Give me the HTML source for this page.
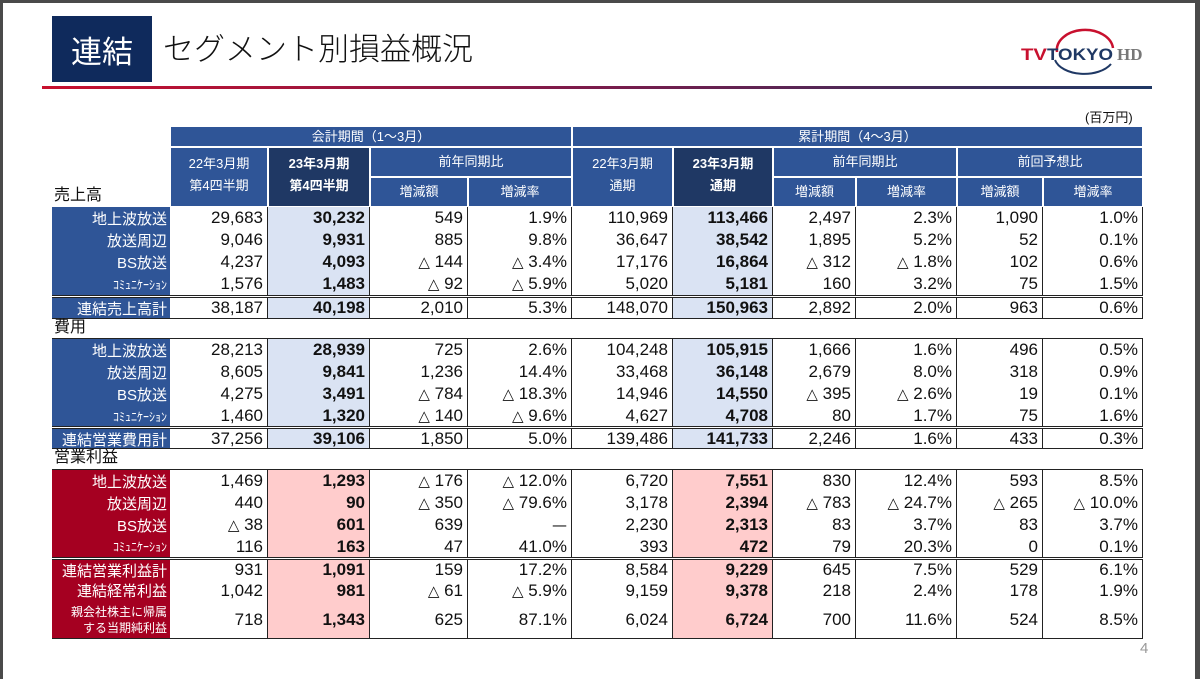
<!DOCTYPE html>
<html><head><meta charset="utf-8">
<style>
body{margin:0;width:1200px;height:679px;background:#4a4a4a;overflow:hidden;font-family:"Liberation Sans","Noto Sans CJK JP",sans-serif}
#slide{position:absolute;left:3px;top:3px;width:1192px;height:676px;background:#fff}
.a{position:absolute;box-sizing:border-box}
.h{background:#2f5597;color:#fff;font-size:13px;display:flex;align-items:center;justify-content:center;text-align:center;line-height:22px;border:1px solid #fff}
.hd{background:#1f3864;font-weight:bold}
.c{font-size:17px;text-align:right;padding-right:4px;display:flex;align-items:center;justify-content:flex-end;color:#111;border-right:1px solid #222;white-space:pre}
.b{font-weight:bold}
.tri{font-family:"DejaVu Sans",sans-serif;font-size:15px;font-weight:normal}
.lab{color:#fff;font-size:15px;display:flex;align-items:center;justify-content:flex-end;padding-right:3px;white-space:nowrap}
.sec{font-size:16px;color:#111;line-height:20px;z-index:2}
</style></head><body>
<div id="slide"></div>
<div class="a" style="left:52px;top:16px;width:100px;height:66px;background:#0f2a5c;color:#fff;font-size:31px;display:flex;align-items:center;justify-content:center">連結</div>
<div class="a" style="left:163px;top:24px;font-size:31px;color:#111;font-weight:300">セグメント別損益概況</div>
<div class="a" style="left:42px;top:86px;width:1110px;height:3px;background:linear-gradient(90deg,#c8102e,#7a1b4b 50%,#1f3864)"></div>
<div class="a" style="left:1015px;top:26px;width:145px;height:56px">
<svg width="145" height="56"><path d="M42 26 A28 20 0 0 1 98 22" stroke="#c8102e" stroke-width="2.5" fill="none"/><path d="M40 34 A30 18 0 0 0 96 38" stroke="#1f3864" stroke-width="2" fill="none"/>
<text x="6" y="34" font-family="Liberation Sans" font-weight="bold" font-size="17" fill="#c8102e" textLength="26" lengthAdjust="spacingAndGlyphs">TV</text>
<text x="32" y="34" font-family="Liberation Sans" font-weight="bold" font-size="17" fill="#1f3864" textLength="66" lengthAdjust="spacingAndGlyphs">TOKYO</text>
<text x="102" y="34" font-family="Liberation Serif" font-weight="bold" font-size="17" fill="#777">HD</text></svg></div>
<div class="a" style="left:1085px;top:107px;font-size:13px;color:#111">(百万円)</div>
<div class="a" style="left:1140px;top:640px;font-size:15px;color:#999">4</div>
<div id="tbl"></div>
<script>
const colX=[170,268,370,468,572,673,773,856,957,1043,1143];
const salesLabels=["地上波放送","放送周辺","BS放送","ｺﾐｭﾆｹｰｼｮﾝ","連結売上高計"];
const salesVals=[
["29,683","30,232","549","1.9%","110,969","113,466","2,497","2.3%","1,090","1.0%"],
["9,046","9,931","885","9.8%","36,647","38,542","1,895","5.2%","52","0.1%"],
["4,237","4,093","△ 144","△ 3.4%","17,176","16,864","△ 312","△ 1.8%","102","0.6%"],
["1,576","1,483","△ 92","△ 5.9%","5,020","5,181","160","3.2%","75","1.5%"],
["38,187","40,198","2,010","5.3%","148,070","150,963","2,892","2.0%","963","0.6%"]];
const costLabels=["地上波放送","放送周辺","BS放送","ｺﾐｭﾆｹｰｼｮﾝ","連結営業費用計"];
const costVals=[
["28,213","28,939","725","2.6%","104,248","105,915","1,666","1.6%","496","0.5%"],
["8,605","9,841","1,236","14.4%","33,468","36,148","2,679","8.0%","318","0.9%"],
["4,275","3,491","△ 784","△ 18.3%","14,946","14,550","△ 395","△ 2.6%","19","0.1%"],
["1,460","1,320","△ 140","△ 9.6%","4,627","4,708","80","1.7%","75","1.6%"],
["37,256","39,106","1,850","5.0%","139,486","141,733","2,246","1.6%","433","0.3%"]];
const profLabels=["地上波放送","放送周辺","BS放送","ｺﾐｭﾆｹｰｼｮﾝ","連結営業利益計","連結経常利益","親会社株主に帰属<br>する当期純利益"];
const profVals=[
["1,469","1,293","△ 176","△ 12.0%","6,720","7,551","830","12.4%","593","8.5%"],
["440","90","△ 350","△ 79.6%","3,178","2,394","△ 783","△ 24.7%","△ 265","△ 10.0%"],
["△ 38","601","639","—","2,230","2,313","83","3.7%","83","3.7%"],
["116","163","47","41.0%","393","472","79","20.3%","0","0.1%"],
["931","1,091","159","17.2%","8,584","9,229","645","7.5%","529","6.1%"],
["1,042","981","△ 61","△ 5.9%","9,159","9,378","218","2.4%","178","1.9%"],
["718","1,343","625","87.1%","6,024","6,724","700","11.6%","524","8.5%"]];
const T=document.getElementById('tbl');
function div(cls,x,y,w,h,html,st){const d=document.createElement('div');d.className='a '+cls;d.style.cssText=`left:${x}px;top:${y}px;width:${w}px;height:${h}px;`+(st||'');d.innerHTML=html;T.appendChild(d);return d;}
function fmt(v){return v.replace('△ ','<span class="tri">△</span> ').replace('—','<span class="tri">—</span>');}
let e;
e=div('h',170,126,402,21,'会計期間（1～3月）');
e=div('h',572,126,571,21,'累計期間（4～3月）');
const h2=[[0,'22年3月期<br>第4四半期',0],[1,'23年3月期<br>第4四半期',1],[4,'22年3月期<br>通期',0],[5,'23年3月期<br>通期',1]];
h2.forEach(([i,t,d])=>{const el=div('h'+(d?' hd':''),colX[i],147,colX[i+1]-colX[i],60,t,'align-items:flex-start;padding-top:5px');

});
[[2,'前年同期比'],[6,'前年同期比'],[8,'前回予想比']].forEach(([i,t])=>{const el=div('h',colX[i],147,colX[i+2]-colX[i],30,t);

});
[2,3,6,7,8,9].forEach(i=>{const el=div('h',colX[i],177,colX[i+1]-colX[i],30,i%2==0?'増減額':'増減率');

});
function sec(t,y){const el=div('sec',54,y,110,20,t);

}
sec('売上高',186);sec('費用',318);sec('営業利益',448);
function block(labels,vals,tops,hs,lbg,hl){
 labels.forEach((lb,r)=>{const y=tops[r],h=hs[r];
  const small=lb.startsWith('ｺﾐｭ')?'font-size:12px;':(lb.includes('<br>')?'font-size:12px;line-height:16px;text-align:right;':'');
  const l=div('lab',52,y,118,h,lb,'background:'+lbg+';'+small);
  
  
  vals[r].forEach((v,c)=>{const hlc=(c==1||c==5);
   const cl=div('c'+(hlc?' b':''),colX[c],y,colX[c+1]-colX[c],h,fmt(v),hlc?'background:'+hl+';':'');
   
   });
 });
}
function line(y,dbl){const el=div('',52,y,1091,dbl?3:1,'',dbl?'border-top:1px solid #222;border-bottom:1px solid #222':'background:#222');

}
block(salesLabels,salesVals,[207,229,251,273,298],[22,22,22,22,20],'#2f5597','#dae3f3');
line(295,true);line(318,false);
block(costLabels,costVals,[339,361,383,405,429],[22,22,22,22,20],'#2f5597','#dae3f3');
line(338,false);line(426,true);line(448,false);
block(profLabels,profVals,[470,492,514,536,560,580,601],[22,22,22,21,20,21,37],'#a50021','#ffcccc');
line(469,false);line(557,true);line(638,false);
</script>
</body></html>
